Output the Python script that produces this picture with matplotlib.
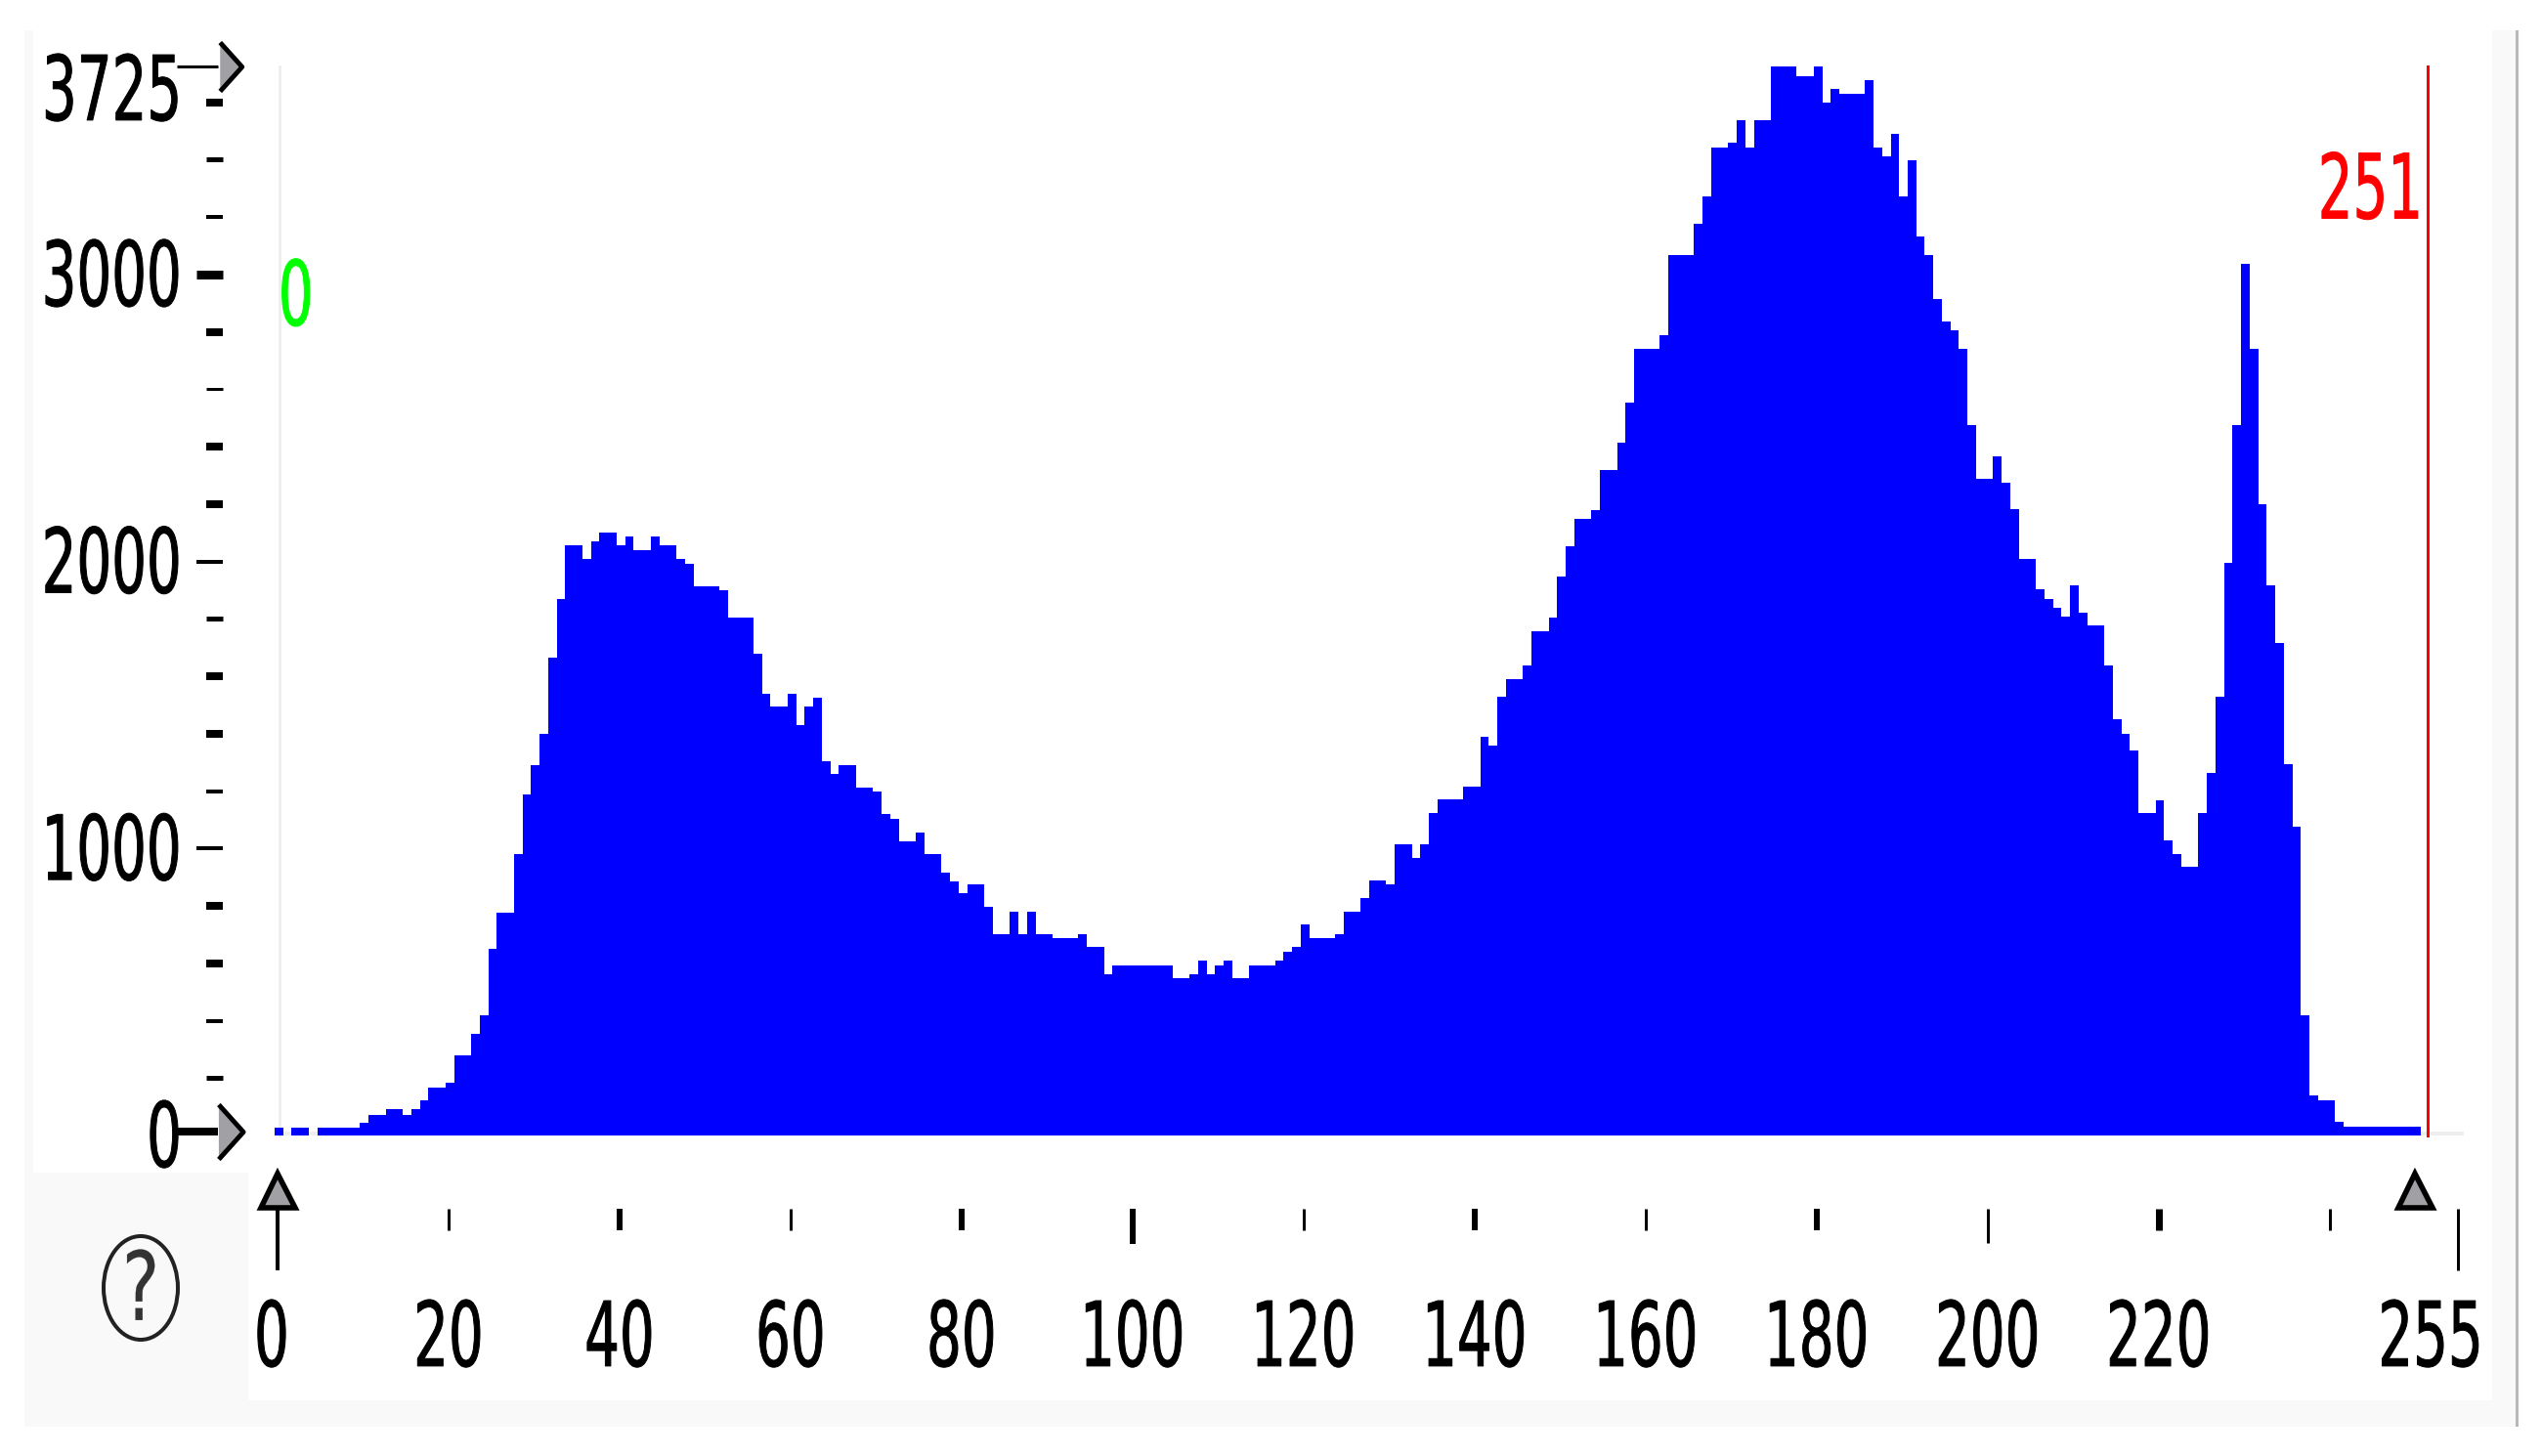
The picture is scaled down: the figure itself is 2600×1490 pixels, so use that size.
import numpy as np
import matplotlib
matplotlib.use('Agg')
import matplotlib.pyplot as plt
from matplotlib.patches import Rectangle, Ellipse
from matplotlib.patheffects import AbstractPathEffect
from matplotlib.transforms import Affine2D, ScaledTranslation

# Histogram counts, grey level 0 to 255
counts_0_49 = [27, 0, 27, 27, 0, 27, 27, 27, 27, 27,
               43, 73, 73, 91, 91, 73, 91, 122, 167, 167,
               184, 278, 278, 354, 418, 652, 777, 777, 980, 1190,
               1290, 1400, 1664, 1868, 2056, 2056, 2009, 2071, 2102, 2102,
               2056, 2087, 2040, 2040, 2087, 2056, 2056, 2009, 1992, 1915]
counts_50_99 = [1915, 1915, 1900, 1805, 1805, 1805, 1679, 1540, 1494, 1494,
                1540, 1430, 1494, 1524, 1305, 1260, 1290, 1290, 1213, 1213,
                1198, 1120, 1103, 1026, 1026, 1056, 980, 980, 916, 886,
                843, 874, 874, 796, 702, 702, 780, 702, 780, 702,
                702, 688, 688, 688, 702, 657, 657, 563, 593, 593]
counts_100_149 = [593, 593, 593, 593, 593, 547, 547, 563, 608, 563,
                  593, 608, 547, 547, 593, 593, 593, 608, 640, 657,
                  735, 688, 688, 688, 702, 780, 780, 827, 890, 890,
                  874, 1015, 1015, 968, 1015, 1124, 1171, 1171, 1171, 1217,
                  1217, 1389, 1358, 1530, 1591, 1591, 1639, 1758, 1758, 1806]
counts_150_199 = [1947, 2054, 2149, 2149, 2179, 2320, 2320, 2413, 2554, 2741,
                  2741, 2741, 2788, 3068, 3068, 3068, 3178, 3272, 3443, 3443,
                  3459, 3537, 3443, 3537, 3537, 3724, 3724, 3724, 3692, 3692,
                  3724, 3599, 3646, 3630, 3630, 3630, 3676, 3443, 3412, 3490,
                  3272, 3397, 3132, 3068, 2913, 2835, 2804, 2741, 2476, 2288]
counts_200_255 = [2288, 2368, 2275, 2181, 2010, 2010, 1902, 1870, 1840, 1808,
                  1917, 1822, 1777, 1777, 1637, 1450, 1401, 1340, 1122, 1122,
                  1169, 1029, 982, 935, 935, 1122, 1262, 1528, 1995, 2476,
                  3038, 2741, 2199, 1917, 1715, 1293, 1075, 420, 138, 124,
                  124, 46, 29, 29, 29, 29, 29, 29, 29, 29,
                  29, 0, 0, 0, 0, 0]
counts = np.array(counts_0_49 + counts_50_99 + counts_100_149 + counts_150_199 + counts_200_255)

y_major = [0, 1000, 2000, 3000, 3725]
y_minor = [200, 400, 600, 800, 1200, 1400, 1600, 1800, 2200, 2400, 2600, 2800, 3200, 3400, 3600]
x_ticks = [0, 20, 40, 60, 80, 100, 120, 140, 160, 180, 200, 220, 240, 255]
x_labels = ['0', '20', '40', '60', '80', '100', '120', '140', '160', '180', '200', '220', '', '255']
low_mark = 0
high_mark = 251
y_min_mark = 0
y_max_mark = 3725
slider_low = 0
slider_high = 250

W, H = 2600, 1490
PT = 0.72  # points per pixel at dpi 100
GREY = '#f9f9f9'


# the original digits are tall and narrow, no installed font is like that
class Tall(AbstractPathEffect):
    def __init__(self, sy=1.63, anchor=0.5, extra=0.7):
        super().__init__()
        self.sy = sy
        self.anchor = anchor
        self.extra = extra

    def draw_path(self, renderer, gc, tpath, affine, rgbFace=None):
        box = tpath.get_extents()
        y0 = box.y0 + self.anchor * box.height
        aff = Affine2D().translate(0, -y0).scale(1, self.sy).translate(0, y0) + affine
        gc0 = renderer.new_gc()
        gc0.copy_properties(gc)
        gc0.set_linewidth(self.extra)
        gc0.set_foreground(rgbFace)
        renderer.draw_path(gc0, tpath, aff, rgbFace)
        gc0.restore()


plt.rcParams['font.family'] = ['DejaVu Sans']
FS = 40.5

fig = plt.figure(figsize=(W / 100, H / 100), dpi=100, facecolor='white')

# window frame behind the chart, in pixels
deco = fig.add_axes([0, 0, 1, 1], zorder=0)
deco.set_xlim(0, W)
deco.set_ylim(H, 0)
deco.axis('off')
deco.add_patch(Rectangle((25, 31), 9, 1169, color=GREY, lw=0))
deco.add_patch(Rectangle((25, 1200), 229, 260, color=GREY, lw=0))
deco.add_patch(Rectangle((254, 1433), 2296, 27, color=GREY, lw=0))
deco.add_patch(Rectangle((2550, 31), 24, 1429, color=GREY, lw=0))
deco.add_patch(Rectangle((2574, 31), 3, 1429, color='#b8b8b8', lw=0))
deco.add_patch(Ellipse((144, 1318), 76, 106, fc='none', ec='#222222', lw=4 * PT))
deco.text(144, 1322, '?', fontsize=52, ha='center', va='center', color='#333333',
          path_effects=[Tall(1.35, extra=0.2)])

ax = fig.add_axes([284 / W, (H - 1162) / H, (2515 - 284) / W, (1162 - 68) / H], zorder=1)
ax.patch.set_alpha(0)
ax.set_xlim(0, 255)
ax.set_ylim(0, 3725)
for s in ['top', 'right', 'left', 'bottom']:
    ax.spines[s].set_visible(False)
ax.spines['left'].set_position(('outward', 56 * PT))
ax.spines['bottom'].set_position(('outward', 75 * PT))

# light guide lines under the bars
ax.plot([0.2, 0.2], [0, y_max_mark], color='#eeeeee', lw=3 * PT, clip_on=False, zorder=1)
ax.plot([0, 255.5], [6, 6], color='#eeeeee', lw=4 * PT, clip_on=False, zorder=1)

edges = np.arange(len(counts) + 1) - 0.35
ax.stairs(counts, edges, fill=True, color='#0000ff', lw=0, clip_on=False, zorder=2)

ax.plot([high_mark + 0.5] * 2, [0, y_max_mark], color='#ff0000', lw=3 * PT, clip_on=False, zorder=3)
ax.text(250.9, 3194, str(high_mark), color='#ff0000', fontsize=FS, ha='right', va='baseline',
        path_effects=[Tall(anchor=0)])
ax.text(0.1, 2822, str(low_mark), color='#00ff00', fontsize=FS, ha='left', va='baseline',
        path_effects=[Tall(anchor=0)])

# y axis
ax.set_yticks(y_major)
ax.set_yticklabels([str(v) for v in y_major])
ax.set_yticks(y_minor, minor=True)
ax.tick_params(axis='y', which='major', length=27 * PT, width=4 * PT, pad=15 * PT, labelsize=FS)
ax.tick_params(axis='y', which='minor', length=17 * PT, width=6 * PT)
minor_w = {200: 5, 400: 4, 600: 8, 800: 8, 1200: 4, 1400: 8, 1600: 8, 1800: 5,
           2200: 8, 2400: 8, 2600: 3, 2800: 8, 3200: 4, 3400: 5, 3600: 8}
for t, v in zip(ax.yaxis.get_minor_ticks(), y_minor):
    t.tick1line.set_markeredgewidth(minor_w[v] * PT)
for t, v in zip(ax.yaxis.get_major_ticks(), y_major):
    t.label1.set_path_effects([Tall()])
    if v in (y_min_mark, y_max_mark):
        t.tick1line.set_visible(False)
    shift = -21 if v == y_max_mark else 2
    t.label1.set_transform(t.label1.get_transform() + ScaledTranslation(0, shift / 100, fig.dpi_scale_trans))
    if v == 3000:
        t.tick1line.set_markeredgewidth(9 * PT)

# x axis
ax.set_xticks(x_ticks)
ax.set_xticklabels(x_labels)
ax.tick_params(axis='x', which='major', length=22 * PT, width=3 * PT, pad=84 * PT, labelsize=FS)
x_w = {0: 4, 40: 6, 80: 6, 100: 6, 140: 6, 180: 6, 220: 7, 255: 3}
x_len = {0: 63, 100: 36, 200: 35, 255: 63}
x_shift = {0: -6, 255: -28}
for t, v in zip(ax.xaxis.get_major_ticks(), x_ticks):
    t.label1.set_path_effects([Tall()])
    t.tick1line.set_markeredgewidth(x_w.get(v, 3) * PT)
    t.tick1line.set_markersize(x_len.get(v, 22) * PT)
    if v in x_shift:
        t.label1.set_transform(t.label1.get_transform() + ScaledTranslation(x_shift[v] / 100, 0, fig.dpi_scale_trans))

# slider handles, placed on the data scale
handle = [(-0.45, -1), (0.45, 0), (-0.45, 1)]
for stem_y, stem_w, size in [(y_max_mark, 3, 50), (14, 8, 56)]:
    ax.plot([-11.8, -7], [stem_y, stem_y], color='black', lw=stem_w * PT, clip_on=False, solid_capstyle='butt', zorder=4)
    ax.plot([-5.5], [stem_y], marker=handle, ms=size * PT, mfc='#a0a0a5', mec='black', mew=3.5,
            clip_on=False, zorder=5)
ax.plot([slider_low, slider_high], [-191, -191], ls='none', marker='^', ms=35 * PT, mfc='#a0a0a5',
        mec='black', mew=4, clip_on=False, zorder=5)

fig.savefig('out.png', dpi=100)
